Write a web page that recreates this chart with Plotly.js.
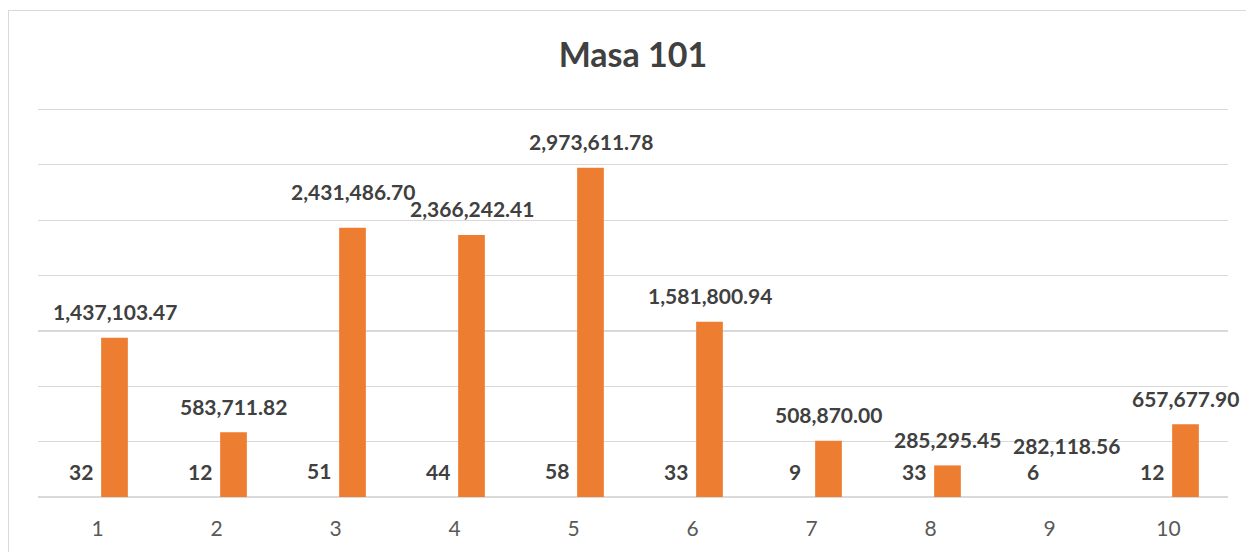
<!DOCTYPE html>
<html>
<head>
<meta charset="utf-8">
<script src="https://cdn.plot.ly/plotly-3.0.1.min.js"></script>
<style>
  html, body { margin: 0; padding: 0; background: #ffffff; }
  #wrap { position: relative; width: 1246px; height: 552px; }
  #chart { position: absolute; left: 0; top: 0; width: 1246px; height: 552px; }
  #frame { position: absolute; left: 8px; top: 10px; width: 1300px; height: 600px;
           border-left: 1px solid #d9d9d9; border-top: 1px solid #d9d9d9; pointer-events: none; }
</style>
</head>
<body>
<div id="wrap">
  <div id="chart"></div>
  <div id="frame"></div>
</div>
<script>
// ---- data ----
const categories = ['1', '2', '3', '4', '5', '6', '7', '8', '9', '10'];
const counts = [32, 12, 51, 44, 58, 33, 9, 33, 6, 12];
const amounts = [1437103.47, 583711.82, 2431486.70, 2366242.41, 2973611.78,
                 1581800.94, 508870.00, 285295.45, 282118.56, 657677.90];
const hiddenBars = ['9']; // category whose amount bar is not drawn in the reference
const chartTitle = 'Masa 101';

// ---- style ----
const ORANGE = '#ED7D31';
const BLUE = '#4472C4';
const LABEL_COLOR = '#404040';
const FONT = 'Lato, "Open Sans", sans-serif';
const BAR_HALF_SLOT = 17; // px offset of each bar from category centre
const LABEL_LIFT = 26;    // px between bar end and label centre
// label lifts that differ from the default (as laid out in the reference)
const labelLiftOverride = {'3': 36, '9': 20};

function fmtAmount(v) {
  return v.toLocaleString('en-US', {minimumFractionDigits: 2, maximumFractionDigits: 2});
}

const traces = [
  {
    type: 'bar', name: 'Count', x: categories, y: counts,
    marker: {color: BLUE}, hoverinfo: 'x+y'
  },
  {
    type: 'bar', name: 'Amount', x: categories, y: amounts,
    marker: {color: categories.map(c => hiddenBars.includes(c) ? 'rgba(0,0,0,0)' : ORANGE)},
    hoverinfo: 'x+y'
  }
];

const annotations = [];
categories.forEach((c, i) => {
  // on a category axis, annotation x is the category's serial index
  annotations.push({
    x: i, y: counts[i], xref: 'x', yref: 'y',
    text: String(counts[i]), showarrow: false,
    xshift: -BAR_HALF_SLOT, yshift: LABEL_LIFT, yanchor: 'middle', xanchor: 'center',
    font: {family: FONT, size: 21, color: LABEL_COLOR, weight: 700}
  });
  annotations.push({
    x: i, y: amounts[i], xref: 'x', yref: 'y',
    text: fmtAmount(amounts[i]), showarrow: false,
    xshift: BAR_HALF_SLOT, yshift: (c in labelLiftOverride) ? labelLiftOverride[c] : LABEL_LIFT,
    yanchor: 'middle', xanchor: 'center',
    font: {family: FONT, size: 21, color: LABEL_COLOR, weight: 700}
  });
});

const layout = {
  width: 1246, height: 552,
  margin: {l: 38, r: 18, t: 105, b: 55, pad: 0},
  paper_bgcolor: '#ffffff', plot_bgcolor: '#ffffff',
  showlegend: false,
  barmode: 'group', bargap: 0.4286, bargroupgap: 0.215,
  title: {
    text: chartTitle, x: 0.508, xanchor: 'center', y: 0.9, yref: 'container', yanchor: 'middle',
    font: {family: FONT, size: 34, color: LABEL_COLOR, weight: 700}
  },
  xaxis: {
    type: 'category', range: [-0.5, categories.length - 0.5],
    showgrid: false, showline: false, zeroline: false, ticks: '',
    tickfont: {family: FONT, size: 21, color: '#595959'}, ticklabelstandoff: 17
  },
  yaxis: {
    range: [0, 3540000], dtick: 500000, tick0: 0,
    showticklabels: false, showgrid: true, gridcolor: '#d9d9d9', gridwidth: 1.3,
    zeroline: true, zerolinecolor: '#d9d9d9', zerolinewidth: 1.5, showline: false, ticks: ''
  },
  annotations: annotations,
  font: {family: FONT}
};

Plotly.newPlot('chart', traces, layout, {displayModeBar: false, staticPlot: true});
</script>
</body>
</html>
